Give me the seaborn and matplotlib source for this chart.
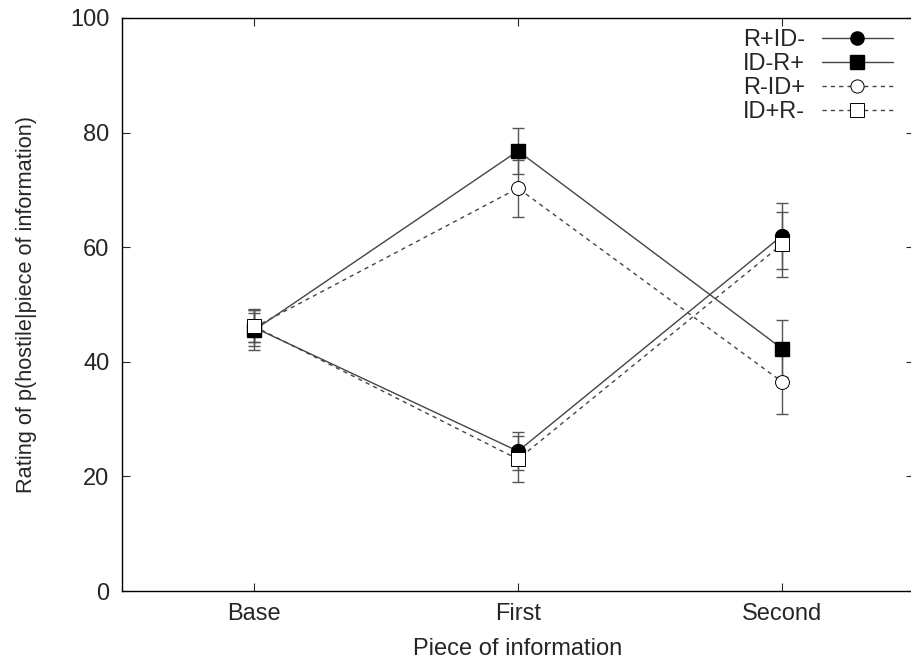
import numpy as np
import pandas as pd
import seaborn as sns
import matplotlib.pyplot as plt

sns.set_theme(style="ticks")
plt.rcParams['font.family'] = ['Liberation Sans', 'DejaVu Sans']

stages = ["Base", "First", "Second"]
series = ["R+ID-", "ID-R+", "R-ID+", "ID+R-"]
means = {
    "R+ID-": [46.0, 24.4, 62.0],
    "ID-R+": [45.5, 76.8, 42.3],
    "R-ID+": [46.0, 70.3, 36.5],
    "ID+R-": [46.2, 23.0, 60.5],
}
errs = {
    "R+ID-": [3.2, 3.3, 5.8],
    "ID-R+": [3.5, 4.0, 5.0],
    "R-ID+": [2.5, 5.0, 5.6],
    "ID+R-": [2.8, 4.0, 5.7],
}

rows = []
for s in series:
    for i, st in enumerate(stages):
        rows.append({"series": s, "x": i, "y": means[s][i], "err": errs[s][i]})
df = pd.DataFrame(rows)

styles = {
    "R+ID-": dict(marker="o", mfc="black", ls="-"),
    "ID-R+": dict(marker="s", mfc="black", ls="-"),
    "R-ID+": dict(marker="o", mfc="white", ls=(0, (3, 3))),
    "ID+R-": dict(marker="s", mfc="white", ls=(0, (3, 3))),
}

fig = plt.figure(figsize=(9.11, 6.71), dpi=100)
ax = fig.add_axes([122 / 911, 1 - 591 / 671, (914 - 122) / 911, (591 - 18) / 671])

for s in series:
    d = df[df.series == s]
    st = styles[s]
    ax.errorbar(d.x, d.y, yerr=d.err, fmt="none", ecolor="#555555", elinewidth=1,
                capsize=4, capthick=1, ls=st["ls"], zorder=2)
    sns.lineplot(data=d, x="x", y="y", ax=ax, color="#444444", lw=1, ls=st["ls"],
                 marker=st["marker"], markersize=10,
                 markerfacecolor=st["mfc"], markeredgecolor="black",
                 markeredgewidth=0.7 if st["mfc"] == "white" else 1, label=s, zorder=3)

ax.set_xlim(-0.5, 2.5)
ax.set_ylim(0, 100)
ax.set_xticks(range(3))
ax.set_xticklabels(stages)
ax.set_yticks(range(0, 101, 20))
ax.tick_params(direction="in", top=True, right=True, length=6, width=0.8, labelsize=17, pad=9)
for sp in ax.spines.values():
    sp.set_linewidth(1)
    sp.set_color("black")
ax.set_xlabel("Piece of information", fontsize=17, labelpad=9)
ax.set_ylabel("Rating of p(hostile|piece of information)", fontsize=15.7, labelpad=24)

leg = ax.legend(loc="upper right", frameon=False, markerfirst=False, fontsize=17,
                handlelength=3.0, handletextpad=0.7, labelspacing=0.08, borderaxespad=0.0,
                bbox_to_anchor=(0.985, 0.997), markerscale=0.95)

fig.savefig("out.png", dpi=100)
